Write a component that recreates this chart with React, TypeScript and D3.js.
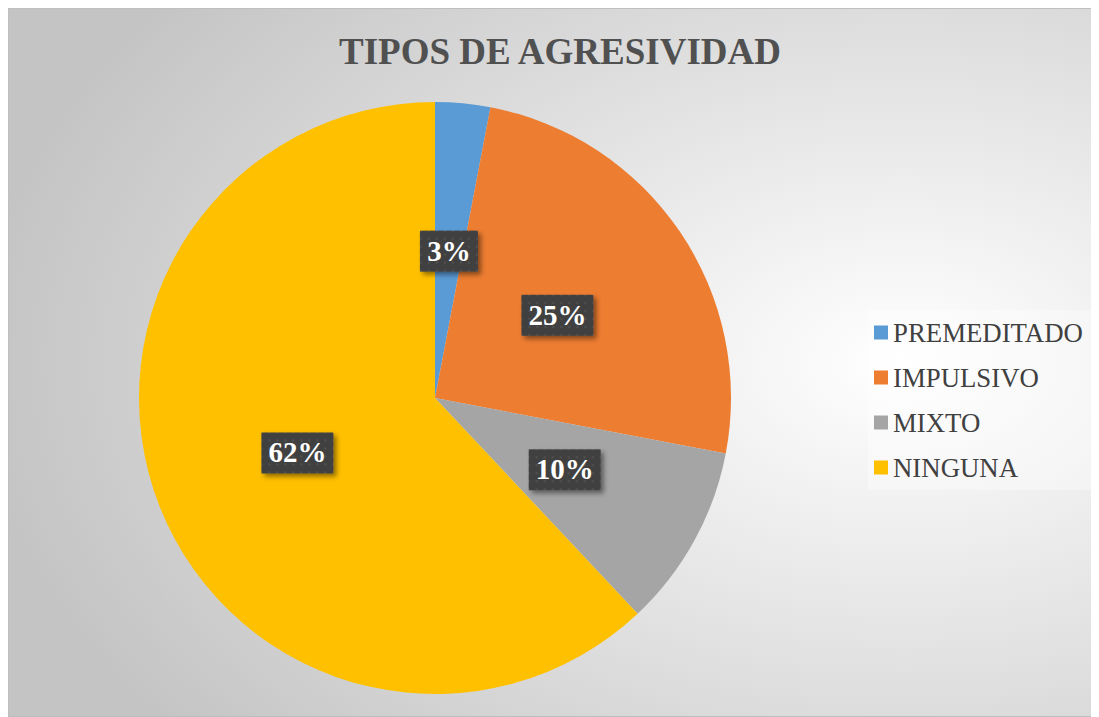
import React from "react";
import * as d3 from "d3";

const categories = ["PREMEDITADO", "IMPULSIVO", "MIXTO", "NINGUNA"];
const values = [3, 25, 10, 62];
const colors = ["#5B9BD5", "#ED7D31", "#A5A5A5", "#FFC000"];
const title = "TIPOS DE AGRESIVIDAD";

export default function App() {
  const W = 1091, H = 709;
  const cx = 427, cy = 390, r = 296;
  const data = categories.map((c, i) => ({ c, v: values[i], color: colors[i] }));
  const pie = d3.pie<any>().value((d) => d.v).sort(null);
  const arcs = pie(data);
  const arc = d3.arc<any>().innerRadius(0).outerRadius(r);
  const labelArc = d3.arc<any>().innerRadius(r * 0.5).outerRadius(r * 0.5);
  const total = d3.sum(values);
  const fmt = d3.format(".0%");
  const legendY = d3.scaleBand().domain(categories).range([302, 482]);
  const serif = { fontFamily: "'Liberation Serif', 'DejaVu Serif', serif" };

  return (
    <svg width={W} height={H} style={{ display: "block", ...serif }}>
      <defs>
        <radialGradient id="bg" cx="0.82" cy="0.5" r="0.85" gradientUnits="objectBoundingBox">
          <stop offset="0" stopColor="#ffffff" />
          <stop offset="1" stopColor="#c4c4c4" />
        </radialGradient>
        <pattern id="dots" width="8" height="8" patternUnits="userSpaceOnUse">
          <rect width="8" height="8" fill="#404040" />
          <circle cx="4" cy="4" r="1.1" fill="#555555" />
        </pattern>
        <filter id="shadow" x="-20%" y="-20%" width="150%" height="160%">
          <feDropShadow dx="3" dy="3" stdDeviation="2.5" floodColor="#000" floodOpacity="0.45" />
        </filter>
      </defs>
      <rect x={0.5} y={0.5} width={W - 1} height={H - 1} fill="url(#bg)" stroke="#bfbfbf" />
      <text x={552} y={56} textAnchor="middle" fontSize={37} fontWeight="bold" fill="#505050" style={serif}>
        {title}
      </text>
      <g transform={`translate(${cx},${cy})`}>
        {arcs.map((a, i) => (
          <path key={i} d={arc(a) as string} fill={a.data.color} />
        ))}
        {arcs.map((a, i) => {
          const [x, y] = labelArc.centroid(a);
          const label = fmt(a.data.v / total);
          const w = label.length === 2 ? 58 : 72;
          return (
            <g key={"l" + i} transform={`translate(${x},${y})`}>
              <rect x={-w / 2} y={-20} width={w} height={41} fill="url(#dots)" filter="url(#shadow)" />
              <text x={0} y={10} textAnchor="middle" fontSize={29} fontWeight="bold" fill="#ffffff" style={serif}>
                {label}
              </text>
            </g>
          );
        })}
      </g>
      <rect x={860} y={302} width={227} height={180} fill="#ffffff" opacity={0.35} />
      {categories.map((c, i) => {
        const y = (legendY(c) as number) + legendY.bandwidth() / 2;
        return (
          <g key={"lg" + i}>
            <rect x={866} y={y - 7} width={14} height={14} fill={colors[i]} />
            <text x={885} y={y + 9} fontSize={26.8} fill="#404040" style={serif}>
              {c}
            </text>
          </g>
        );
      })}
    </svg>
  );
}
